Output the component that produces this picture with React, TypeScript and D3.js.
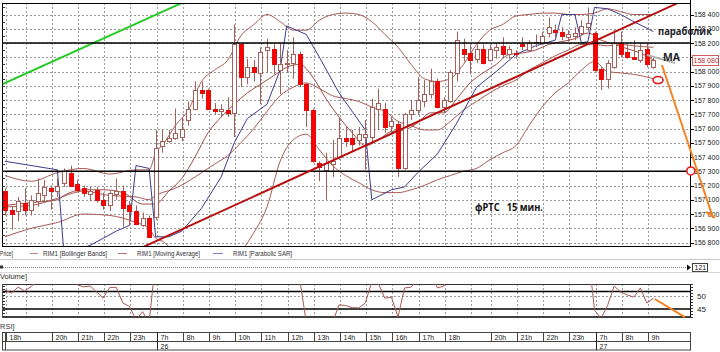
import React from "react";
import * as d3 from "d3";

// ---------------- data ----------------
const candleOpen = [157160,157030,157020,157080,157030,157090,157130,157180,157160,157220,157290,157210,157180,157140,157170,157100,157060,157140,157160,157060,157020,156920,156970,156980,157480,157510,157530,157540,157660,157740,157870,157870,157740,157720,157730,157710,158190,157960,158030,157990,158150,158160,158010,158050,158060,158120,157910,157730,157360,157310,157350,157400,157530,157530,157520,157540,157540,157740,157740,157620,157630,157320,157700,157730,157790,157840,157930,157750,157790,157990,158160,158130,158090,158160,158080,158150,158180,158120,158130,158190,158150,158200,158200,158270,158290,158280,158240,158250,158270,158310,158270,158020,157950,158030,158200,158140,158100,158080,158160,158030];
const candleHigh = [157180,157050,157120,157180,157130,157250,157240,157200,157250,157320,157340,157240,157200,157190,157190,157150,157160,157250,157200,157090,157060,157010,156990,157590,157590,157590,157740,157680,157790,157930,157930,157880,157780,157770,157820,158330,158200,158090,158080,158170,158230,158190,158200,158150,158240,158140,157920,157740,157370,157430,157520,157680,157610,157590,157610,157660,157810,157880,157780,157680,157650,157710,157800,157960,157940,158020,157950,157820,158010,158280,158230,158190,158190,158190,158190,158200,158240,158180,158150,158240,158220,158260,158280,158380,158330,158310,158290,158310,158360,158450,158280,158030,158080,158290,158280,158190,158220,158200,158200,158100];
const candleLow = [156990,156890,156950,156990,156990,157050,157080,157030,157120,157190,157190,157150,157120,157090,157080,157030,157020,157100,156910,156920,156920,156910,156830,156960,157430,157500,157520,157510,157620,157730,157810,157730,157700,157680,157680,157540,157890,157910,157930,157770,157990,157980,157840,157990,157950,157890,157610,157360,157230,157100,157260,157380,157470,157440,157480,157310,157500,157590,157570,157570,157260,157310,157660,157700,157750,157810,157740,157710,157780,157930,158070,157980,158060,158050,158070,158090,158100,158090,158090,158150,158140,158170,158190,158240,158230,158220,158210,158220,158250,158280,158000,157870,157880,158020,158100,158090,158080,158060,158030,158020];
const candleClose = [157030,157000,157090,157030,157100,157150,157190,157160,157200,157300,157200,157170,157150,157160,157100,157060,157150,157160,157040,157020,156930,156970,156840,157460,157510,157530,157570,157600,157740,157870,157850,157740,157720,157740,157710,158190,157960,158030,158000,158140,158170,158050,158050,158060,158120,157910,157730,157370,157330,157360,157370,157530,157510,157490,157560,157560,157750,157780,157610,157650,157320,157700,157730,157800,157840,157930,157750,157800,158000,158220,158120,158080,158160,158060,158160,158170,158120,158160,158120,158180,158200,158210,158250,158310,158280,158250,158260,158270,158320,158340,158010,157950,158060,158200,158120,158100,158090,158150,158050,158080];

// Bollinger Bands (read at sample candles)
const bandIdx = [0,4,8,12,16,20,22,23,24,26,28,30,32,34,36,38,40,42,44,46,48,50,52,54,56,58,60,62,64,66,68,70,72,74,76,78,80,82,84,86,88,90,92,94,96,99];
const bbUpper = [157270,157230,157290,157320,157280,157310,157310,157430,157480,157620,157730,157930,158010,158080,158250,158330,158400,158350,158290,158290,158360,158400,158410,158400,158350,158260,158170,158050,157950,157930,157950,158050,158190,158290,158330,158390,158400,158410,158410,158400,158400,158410,158440,158420,158400,158400];
const bbMiddle = [157050,157060,157110,157160,157130,157120,157100,157130,157150,157180,157230,157290,157350,157410,157500,157600,157720,157830,157890,157920,157880,157830,157810,157790,157750,157720,157650,157620,157590,157590,157650,157730,157790,157850,157900,157940,158010,158060,158110,158150,158190,158190,158180,158190,158180,158170];
const bbLower = [156840,156900,156940,157000,156990,156940,156900,156830,156810,156740,156730,156660,156680,156730,156750,156870,157050,157370,157520,157560,157450,157340,157270,157220,157170,157150,157150,157170,157200,157240,157270,157300,157320,157380,157430,157480,157620,157750,157850,157920,158010,158070,158000,157990,157980,157950];

// Moving average
const maIdx = [0,4,8,9,12,15,18,21,23,25,27,29,31,33,35,37,39,41,43,45,47,49,51,53,55,57,59,61,63,65,67,69,71,73,75,77,79,81,83,85,87,89,91,93,95,97,99];
const maValue = [157060,157080,157100,157130,157170,157170,157150,157070,157070,157160,157250,157400,157570,157680,157770,157850,157910,157970,158030,158050,157960,157810,157680,157570,157480,157520,157580,157590,157640,157710,157710,157810,157920,157990,158050,158120,158130,158150,158190,158210,158230,158270,158220,158190,158160,158130,158080];

// Parabolic SAR
const sarIdx = [0,8,9,13,15,17,19,20,22,23,25,27,30,33,35,37,40,42,43,46,48,51,55,56,59,61,63,66,69,72,75,78,81,84,85,87,88,89,90,92,94,96,99];
const sarValue = [157370,157310,156720,156780,156830,156880,156920,157340,157320,156840,156840,156880,157040,157260,157500,157670,157770,158010,158320,158260,158100,157850,157590,157100,157170,157190,157290,157420,157640,157890,158000,158120,158180,158220,158400,158400,158200,158210,158450,158440,158400,158350,158280];

// RSI
const rsiValue = [52,50.9,53.1,51.7,53.3,56,57,56,58,60,57,54,53.2,53.5,51.3,49.1,53,53,47.2,46,41,44,40,63,65,66,67,68,71,74,72,66,64,65,62,75,66,67,65,68,68,63,62,62,64,56,40,33,32,34,40,46.5,46.3,45.5,45.4,47.2,55,54.5,49,49.4,42,52.8,53.1,56,57,60,52.8,53.5,59,65,62,60,63,58,62,62,59,61,59,62,63,63,64,67,65,62,63,63,66,67,44.6,41.5,46.3,53.5,51.3,50.2,49.4,52.8,47.2,49];

// axes / labels
const priceTicks = [156800,156900,157000,157100,157200,157300,157400,157500,157600,157700,157800,157900,158000,158100,158200,158300,158400];
const hiddenPriceLabels = [158100];
const hourIdx = [0,7,11,15,19,23,27,31,35,39,43,47,51,55,59,63,67,74,78,82,86,90,94,98];
const hourLabel = ["18h","20h","21h","22h","23h","7h","8h","9h","10h","11h","12h","13h","14h","15h","16h","17h","18h","20h","21h","22h","23h","7h","8h","9h"];
const gridIdx = [0,3,7,11,15,19,23,27,31,35,39,43,47,51,55,59,63,67,71,74,78,82,86,90,94,98];
const dayIdx = [23,90];
const dayLabel = ["26","27"];
const levelPrices = [158200,157300];
const lastPrice = 158080;
const rsiBlackLevels = [51.5,45,42];
const rsiTicks = [50,45];
const barCount = 121;

// hand-drawn annotations (index, price)
const greenLine = [[-0.46,157910],[27.02,158481]];
const trendLine = [[21.07,156768],[102.75,158481]];
const orangeArrow = [[100.3,158046],[108.1,156972]];
const orangeBarb = [[107.0,157014],[108.4,156975]];
const maPointer = [[98.0,158116],[102.3,158060]];
const circleA = [104.7,157302];
const circleB = [99.7,157940];
const rsiOrange = [[99.2,48.7],[103.8,42]];

const UI = "'Liberation Sans', Arial, sans-serif";
const BOLD = "'Open Sans', 'Noto Sans', sans-serif";

function fmt(v: number) {
  const s = String(Math.round(v));
  return s.slice(0, s.length - 3) + " " + s.slice(-3);
}

export default function App() {
  const x = d3.scaleLinear().domain([0, 99]).range([5, 653.45]);
  const y = d3.scaleLinear().domain([158400, 156800]).range([14.5, 242.5]);
  const yr = d3.scaleLinear().domain([50, 45]).range([295.5, 309]);
  const L = 2, R = 690, T = 3, B = 246;

  const straight = d3.line<number[]>().x(d => x(d[0])).y(d => y(d[1]));
  const smooth = d3.line<number[]>().x(d => x(d[0])).y(d => y(d[1])).curve(d3.curveMonotoneX);
  const rsiLine = d3.line<number[]>().x(d => x(d[0])).y(d => yr(d[1]));
  const zip = (a: number[], b: number[]) => a.map((v, k) => [v, b[k]]);

  const gx = (i: number) => Math.round(x(i) + 1) + 0.5;
  const py = (p: number) => Math.round(y(p)) + 0.5;

  const wick = "#a5605a";
  const band = "#a65a55";

  return (
    <svg width={720} height={352} style={{ position: "absolute", left: 0, top: 0, background: "#fff" }} fontFamily={UI}>
      <defs>
        <clipPath id="mainClip"><rect x={L} y={T} width={R - L} height={B - T} /></clipPath>
        <clipPath id="rsiClip"><rect x={L} y={284} width={R - L} height={33} /></clipPath>
      </defs>
      <rect x={0} y={0} width={720} height={352} fill="#fff" />

      {/* main grid */}
      <g stroke="#9a9a9a" strokeWidth={1} strokeDasharray="2,2">
        {priceTicks.map(p => <line key={"h" + p} x1={L} x2={R} y1={py(p)} y2={py(p)} />)}
        {gridIdx.map(i => <line key={"v" + i} x1={gx(i)} x2={gx(i)} y1={T} y2={B} />)}
      </g>

      <g clipPath="url(#mainClip)">
        <path d={straight(greenLine) || ""} stroke="#22cc22" strokeWidth={2} fill="none" />
        <path d={smooth(zip(bandIdx, bbUpper)) || ""} stroke={band} strokeWidth={1} fill="none" />
        <path d={smooth(zip(bandIdx, bbMiddle)) || ""} stroke={band} strokeWidth={1} fill="none" />
        <path d={smooth(zip(bandIdx, bbLower)) || ""} stroke={band} strokeWidth={1} fill="none" />
        <path d={smooth(zip(maIdx, maValue)) || ""} stroke="#9c4c48" strokeWidth={1} fill="none" />
        <path d={straight(zip(sarIdx, sarValue)) || ""} stroke="#3c3c8c" strokeWidth={1} fill="none" />
        {candleOpen.map((o, i) => {
          const c = candleClose[i];
          const xc = Math.round(x(i));
          const bull = c >= o;
          const top = Math.round(y(Math.max(o, c)));
          const bot = Math.round(y(Math.min(o, c)));
          const h = Math.max(bot - top, 1);
          return (
            <g key={"c" + i}>
              <line x1={xc + 0.5} x2={xc + 0.5} y1={y(candleHigh[i])} y2={y(candleLow[i])} stroke={wick} strokeWidth={1} />
              <rect x={xc - 1.5} y={top + 0.5} width={4} height={h} fill={bull ? "#fff" : "#ff0000"} stroke={bull ? wick : "#d81010"} strokeWidth={1} />
            </g>
          );
        })}
        {levelPrices.map(p => <line key={"lv" + p} x1={L} x2={R} y1={y(p)} y2={y(p)} stroke="#000" strokeWidth={1.5} />)}
        <path d={straight(trendLine) || ""} stroke="#b81010" strokeWidth={2} fill="none" />
        <path d={straight(maPointer) || ""} stroke="#b4b4b4" strokeWidth={2} fill="none" />
        <ellipse cx={x(circleB[0])} cy={y(circleB[1])} rx={5} ry={3.5} fill="none" stroke="#e01818" strokeWidth={1.6} />
      </g>

      {/* frame */}
      <g stroke="#000" strokeWidth={1}>
        <line x1={L} x2={R} y1={T + 0.5} y2={T + 0.5} />
        <line x1={L} x2={R + 1} y1={B + 0.5} y2={B + 0.5} />
        <line x1={L + 0.5} x2={L + 0.5} y1={T} y2={B} />
        <line x1={R + 0.5} x2={R + 0.5} y1={0} y2={B + 1} />
      </g>
      <g stroke="#333">
        {d3.range(156800, 158451, 50).map(p => <line key={"lt" + p} x1={L} x2={L + 3} y1={py(p)} y2={py(p)} />)}
      </g>

      {/* price axis */}
      <g fontSize={7} fill="#222">
        {priceTicks.map(p => (
          <g key={"pt" + p}>
            <line x1={R} x2={R + 4} y1={py(p)} y2={py(p)} stroke="#000" />
            {hiddenPriceLabels.indexOf(p) < 0 && (
              <text x={694} y={y(p) + 2.5}>{fmt(p)}</text>
            )}
          </g>
        ))}
      </g>
      <rect x={692.5} y={Math.round(y(lastPrice)) - 4.5} width={26} height={10} fill="#fff" stroke="#d06060" />
      <text x={693.5} y={y(lastPrice) + 2.5} fontSize={7} fill="#b03030">{fmt(lastPrice)}</text>

      <path d={straight(orangeArrow) || ""} stroke="#f58220" strokeWidth={2} fill="none" />
      <path d={straight(orangeBarb) || ""} stroke="#f58220" strokeWidth={2} fill="none" />
      <circle cx={x(circleA[0])} cy={y(circleA[1])} r={4} fill="#fff" stroke="#e01818" strokeWidth={1.6} />

      {/* annotation texts */}
      <text x={658} y={35} fontFamily={BOLD} fontWeight={700} fontSize={11} fill="#1e1e2a" textLength={54} lengthAdjust="spacingAndGlyphs">параболик</text>
      <text x={663} y={61} fontFamily={BOLD} fontWeight={700} fontSize={11} fill="#1e1e2a" textLength={17} lengthAdjust="spacingAndGlyphs">МА</text>
      <text x={475} y={211} fontFamily={BOLD} fontWeight={700} fontSize={10.5} fill="#111" textLength={68} lengthAdjust="spacingAndGlyphs" style={{ whiteSpace: "pre" }}>фРТС   15 мин.</text>

      {/* legend */}
      <g fontSize={7.5} fill="#333">
        <text x={0} y={256} textLength={13} lengthAdjust="spacingAndGlyphs">Price]</text>
        <line x1={30} x2={38} y1={253.5} y2={253.5} stroke="#c08a8a" />
        <text x={43} y={256} textLength={64} lengthAdjust="spacingAndGlyphs">RIM1 [Bollinger Bands]</text>
        <line x1={118} x2={127} y1={253.5} y2={253.5} stroke="#b07070" />
        <text x={137} y={256} textLength={63} lengthAdjust="spacingAndGlyphs">RIM1 [Moving Average]</text>
        <line x1={213} x2={223} y1={253.5} y2={253.5} stroke="#8080b8" />
        <text x={233} y={256} textLength={59} lengthAdjust="spacingAndGlyphs">RIM1 [Parabolic SAR]</text>
      </g>

      {/* scroll / volume strip */}
      <line x1={0} x2={720} y1={259.5} y2={259.5} stroke="#c8c8c8" />
      <line x1={3} x2={688} y1={267.5} y2={267.5} stroke="#888" strokeDasharray="1,1" />
      <rect x={0} y={265.5} width={3} height={3} fill="#333" />
      <path d="M687,264.5 L691,267.5 L687,270.5 Z" fill="#111" />
      <rect x={692.5} y={263.5} width={15} height={8} fill="#fff" stroke="#444" />
      <text x={694.5} y={270} fontSize={7} fill="#222">{barCount}</text>
      <line x1={0} x2={720} y1={272.5} y2={272.5} stroke="#d8d8d8" />
      <text x={0} y={279} fontSize={7.5} fill="#333">Volume]</text>

      {/* RSI panel */}
      <g stroke="#9a9a9a" strokeDasharray="2,2">
        {gridIdx.map(i => <line key={"rv" + i} x1={gx(i)} x2={gx(i)} y1={284} y2={317} />)}
        <line x1={L} x2={R} y1={Math.round(yr(50)) + 0.5} y2={Math.round(yr(50)) + 0.5} />
      </g>
      <line x1={L} x2={R} y1={284.5} y2={284.5} stroke="#333" />
      {rsiBlackLevels.map(v => <line key={"rl" + v} x1={L} x2={R} y1={yr(v)} y2={yr(v)} stroke="#000" strokeWidth={1.5} />)}
      <g clipPath="url(#rsiClip)">
        <path d={rsiLine(rsiValue.map((v, i) => [i, v])) || ""} stroke="#a65a55" strokeWidth={1} fill="none" />
      </g>
      <path d={rsiLine(rsiOrange) || ""} stroke="#f58220" strokeWidth={2} fill="none" />
      <line x1={R + 0.5} x2={R + 0.5} y1={284} y2={318} stroke="#000" />
      <line x1={L + 0.5} x2={L + 0.5} y1={284} y2={318} stroke="#555" />
      <g stroke="#333">
        {d3.range(284, 318, 3).map(v => <line key={"rt" + v} x1={R} x2={R + 3} y1={v + 0.5} y2={v + 0.5} />)}
        {d3.range(286, 318, 3).map(v => <line key={"lt2" + v} x1={L} x2={L + 3} y1={v + 0.5} y2={v + 0.5} />)}
      </g>
      {rsiTicks.map(v => <text key={"rtx" + v} x={697} y={yr(v) + 3} fontSize={8} fill="#222">{v}</text>)}
      <text x={0} y={329} fontSize={7.5} fill="#333">RSI]</text>

      {/* time axis */}
      <rect x={2.5} y={332.5} width={688} height={17.5} fill="#fff" stroke="#444" />
      <line x1={5.5} x2={5.5} y1={332.5} y2={350} stroke="#444" />
      <line x1={2.5} x2={690.5} y1={341.5} y2={341.5} stroke="#444" />
      {hourIdx.map((i, k) => (
        <g key={"ta" + k}>
          <line x1={gx(i)} x2={gx(i)} y1={332.5} y2={341.5} stroke="#444" />
          <text x={gx(i) + 3} y={339.5} fontSize={7} fill="#222">{hourLabel[k]}</text>
        </g>
      ))}
      {dayIdx.map((i, k) => (
        <g key={"da" + k}>
          <line x1={gx(i)} x2={gx(i)} y1={332.5} y2={350} stroke="#222" />
          <text x={gx(i) + 3} y={348.5} fontSize={7} fill="#222">{dayLabel[k]}</text>
        </g>
      ))}
    </svg>
  );
}
